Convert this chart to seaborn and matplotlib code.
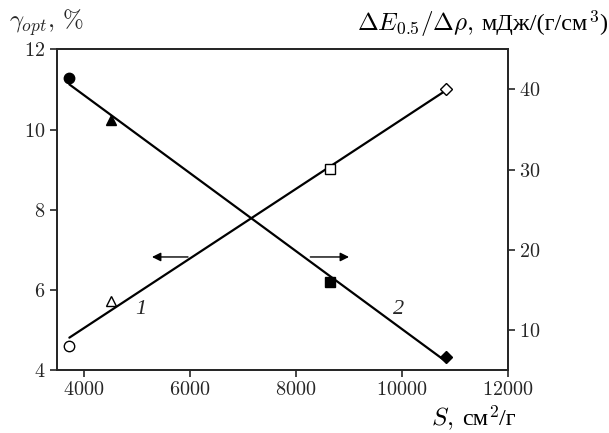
import matplotlib
matplotlib.use("Agg")
import matplotlib.pyplot as plt
from matplotlib.offsetbox import TextArea, HPacker, AnchoredOffsetbox, DrawingArea
import seaborn as sns
import numpy as np

# Data
s_area = [3720, 4500, 8650, 10830]          # S, cm^2/g
gamma_opt = [4.61, 5.73, 9.01, 11.0]        # left axis, %
dE_drho = [41.4, 36.2, 16.0, 6.6]           # right axis, mJ/(g/cm^3)
marker_kinds = ['o', '^', 's', 'D']
marker_sizes = [7.5, 7.5, 7.5, 6.5]

x_ticks = [4000, 6000, 8000, 10000, 12000]
left_ticks = [4, 6, 8, 10, 12]
right_ticks = [10, 20, 30, 40]

sns.set_style("ticks")
plt.rcParams['font.family'] = ['cmr10', 'Liberation Serif']
plt.rcParams['mathtext.fontset'] = 'cm'
plt.rcParams['axes.formatter.use_mathtext'] = True
plt.rcParams['axes.unicode_minus'] = False

fig = plt.figure(figsize=(6.09, 4.33), dpi=100)
ax = fig.add_axes([0.093, 0.1455, 0.741, 0.7405])
ax2 = ax.twinx()

# Curve 1 - open markers, left axis
sns.regplot(x=np.array(s_area), y=np.array(gamma_opt), ci=None, scatter=False,
            color='black', line_kws={'lw': 1.6}, ax=ax)
for xv, yv, m, ms in zip(s_area, gamma_opt, marker_kinds, marker_sizes):
    ax.plot(xv, yv, marker=m, ms=ms, mfc='white', mec='black', mew=1.0,
            ls='none', zorder=5)

# Curve 2 - filled markers, right axis
sns.regplot(x=np.array(s_area), y=np.array(dE_drho), ci=None, scatter=False,
            color='black', line_kws={'lw': 1.6}, ax=ax2)
for xv, yv, m, ms in zip(s_area, dE_drho, marker_kinds, marker_sizes):
    ax2.plot(xv, yv, marker=m, ms=ms, mfc='black', mec='black', mew=1.0,
             ls='none', zorder=5)

ax.set_xlim(3480, 12000)
ax.set_ylim(4, 12)
ax2.set_ylim(5, 45)
ax.set_xticks(x_ticks)
ax.set_yticks(left_ticks)
ax2.set_yticks(right_ticks)
ax.set_xlabel('')
ax.set_ylabel('')
ax2.set_xlabel('')
ax2.set_ylabel('')

for a in (ax, ax2):
    a.tick_params(direction='out', length=5, width=1.2, labelsize=14.5, pad=3)
    for sp in a.spines.values():
        sp.set_linewidth(1.3)
        sp.set_visible(True)
ax.tick_params(axis='x', top=False)

# Arrows pointing to the relevant axis
ax.annotate('', xy=(5280, 6.82), xytext=(5960, 6.82),
            arrowprops=dict(arrowstyle='-|>', color='black', lw=1.0,
                            mutation_scale=13, shrinkA=0, shrinkB=0))
ax.annotate('', xy=(9000, 6.82), xytext=(8270, 6.82),
            arrowprops=dict(arrowstyle='-|>', color='black', lw=1.0,
                            mutation_scale=13, shrinkA=0, shrinkB=0))

ax.text(5060, 5.5, '1', fontsize=16, ha='center', va='center',
        family='Liberation Serif', style='italic')
ax.text(9940, 5.5, '2', fontsize=16, ha='center', va='center',
        family='Liberation Serif', style='italic')

fig.text(0.015, 0.935, r'$\gamma_{opt}$, %', fontsize=18, ha='left', va='baseline')


def packed_label(parts, loc, anchor):
    # math parts in CM, Cyrillic parts in a serif font that has the glyphs
    boxes = []
    for txt in parts:
        if txt == ' ':
            boxes.append(DrawingArea(6, 0))
            continue
        if '$' in txt:
            props = dict(size=18, color='black')
        else:
            props = dict(size=17.5, color='black', family='Liberation Serif')
        boxes.append(TextArea(txt, textprops=props))
    pack = HPacker(children=boxes, align='baseline', pad=0, sep=0)
    box = AnchoredOffsetbox(loc=loc, child=pack, pad=0, borderpad=0,
                            frameon=False, bbox_to_anchor=anchor,
                            bbox_transform=fig.transFigure)
    fig.add_artist(box)


packed_label([r'$\Delta E_{0.5}/\Delta\rho$,', ' ', 'мДж/(г/см', r'$^3$', ')'],
             'lower right', (0.997, 0.912))
packed_label([r'$S$,', ' ', 'см', r'$^2$', '/г'],
             'lower right', (0.847, 0.003))

fig.savefig('out.png', dpi=100)
